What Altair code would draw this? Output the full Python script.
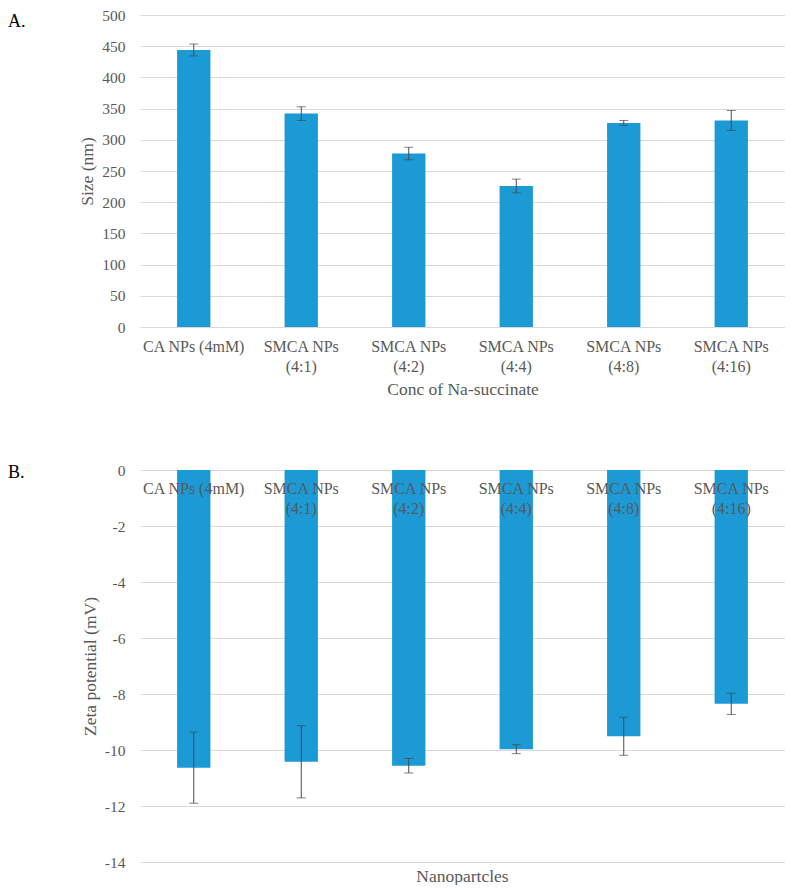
import altair as alt
import pandas as pd

categories = ["CA NPs (4mM)", "SMCA NPs (4:1)", "SMCA NPs (4:2)",
              "SMCA NPs (4:4)", "SMCA NPs (4:8)", "SMCA NPs (4:16)"]
size_nm = [444, 342, 278, 226, 327, 331]
size_err = [9.5, 11, 10, 11, 4, 16]
zeta_mv = [-10.63, -10.42, -10.56, -9.97, -9.51, -8.35]
zeta_err = [1.27, 1.29, 0.26, 0.16, 0.68, 0.38]
size_ticks = [0, 50, 100, 150, 200, 250, 300, 350, 400, 450, 500]
zeta_ticks = [-14, -12, -10, -8, -6, -4, -2, 0]

df = pd.DataFrame({
    "cat": categories,
    "size": size_nm,
    "size_lo": [v - e for v, e in zip(size_nm, size_err)],
    "size_hi": [v + e for v, e in zip(size_nm, size_err)],
    "zeta": zeta_mv,
    "zeta_lo": [v - e for v, e in zip(zeta_mv, zeta_err)],
    "zeta_hi": [v + e for v, e in zip(zeta_mv, zeta_err)],
})

FONT = "Liberation Serif"
GRAY = "#595959"
BAR = "#1b9ad6"
ERR = "#4a4a4a"
W = 645
H1 = 312
H2 = 392

label_expr = "indexof(datum.label, 'SMCA') == 0 ? ['SMCA NPs', substring(datum.label, 9)] : datum.label"
xscale = alt.Scale(paddingInner=0.69, paddingOuter=0.345)

# ---- Panel A ----
axisXA = alt.Axis(title="Conc of Na-succinate", labelAngle=0, labelExpr=label_expr,
                  labelFont=FONT, titleFont=FONT,
                  labelFontSize=16, labelLineHeight=20, labelPadding=11,
                  ticks=False, tickSize=0, domain=False, grid=False,
                  titleFontSize=17.5, titlePadding=6)
axisYA = alt.Axis(title="Size (nm)", values=size_ticks, tickCount=11,
                  grid=True, gridColor="#d9d9d9", domain=False, ticks=False,
                  labelFont=FONT, titleFont=FONT,
                  labelFontSize=15.5, labelPadding=15, labelExpr="'' + datum.value",
                  titleFontSize=17.5, titlePadding=5)
yA_scale = alt.Scale(domain=[0, 500])
xA = alt.X("cat:N", sort=categories, scale=xscale, axis=axisXA)

baseA = alt.Chart(df)
barsA = baseA.mark_bar(color=BAR).encode(
    x=xA, y=alt.Y("size:Q", scale=yA_scale, axis=axisYA))
ruleA = baseA.mark_rule(color=ERR, strokeWidth=1).encode(
    x=xA, y=alt.Y("size_lo:Q", scale=yA_scale, axis=axisYA), y2="size_hi:Q")
capA1 = baseA.mark_tick(color=ERR, size=9, thickness=1).encode(
    x=xA, y=alt.Y("size_lo:Q", scale=yA_scale, axis=axisYA))
capA2 = baseA.mark_tick(color=ERR, size=9, thickness=1).encode(
    x=xA, y=alt.Y("size_hi:Q", scale=yA_scale, axis=axisYA))
labA = alt.Chart(alt.Data(values=[{}])).mark_text(
    text="A.", font=FONT, fontSize=18, color="black", align="left", baseline="middle"
).encode(x=alt.value(-132), y=alt.value(7))

chartA = alt.layer(barsA, ruleA, capA1, capA2, labA).properties(width=W, height=H1)

# ---- Panel B ----
axisXB = alt.Axis(title=None, labelAngle=0, labelExpr=label_expr, orient="bottom",
                  offset=-H2, labelFont=FONT, labelFontSize=16, labelLineHeight=20,
                  labelPadding=10, ticks=False, tickSize=0, domain=False, grid=False,
                  zindex=1)
axisYB = alt.Axis(title="Zeta potential (mV)", values=zeta_ticks, tickCount=8,
                  grid=True, gridColor="#d9d9d9", domain=False, ticks=False,
                  labelFont=FONT, titleFont=FONT,
                  labelFontSize=15.5, labelPadding=15, labelExpr="'' + datum.value",
                  titleFontSize=17.5, titlePadding=5)
yB_scale = alt.Scale(domain=[-14, 0])
xB = alt.X("cat:N", sort=categories, scale=xscale, axis=axisXB)

baseB = alt.Chart(df)
barsB = baseB.mark_bar(color=BAR).encode(
    x=xB, y=alt.Y("zeta:Q", scale=yB_scale, axis=axisYB))
ruleB = baseB.mark_rule(color=ERR, strokeWidth=1).encode(
    x=xB, y=alt.Y("zeta_lo:Q", scale=yB_scale, axis=axisYB), y2="zeta_hi:Q")
capB1 = baseB.mark_tick(color=ERR, size=9, thickness=1).encode(
    x=xB, y=alt.Y("zeta_lo:Q", scale=yB_scale, axis=axisYB))
capB2 = baseB.mark_tick(color=ERR, size=9, thickness=1).encode(
    x=xB, y=alt.Y("zeta_hi:Q", scale=yB_scale, axis=axisYB))
labB = alt.Chart(alt.Data(values=[{}])).mark_text(
    text="B.", font=FONT, fontSize=18, color="black", align="left", baseline="middle"
).encode(x=alt.value(-132), y=alt.value(3))

chartB = alt.layer(barsB, ruleB, capB1, capB2, labB).properties(
    width=W, height=H2,
    title=alt.TitleParams("Nanopartcles", orient="bottom", anchor="middle", fontSize=17.5,
                          font=FONT, color=GRAY, fontWeight="normal", offset=-3),
)

chart = alt.vconcat(chartA, chartB, spacing=65).properties(
    padding={"left": 0, "top": 0, "right": 0, "bottom": 0}
).configure_axis(
    labelFont=FONT, titleFont=FONT, labelColor=GRAY, titleColor=GRAY, titleFontWeight="normal"
).configure_view(stroke=None)

chart.save("out.html", embed_options={"renderer": "svg", "actions": False})
